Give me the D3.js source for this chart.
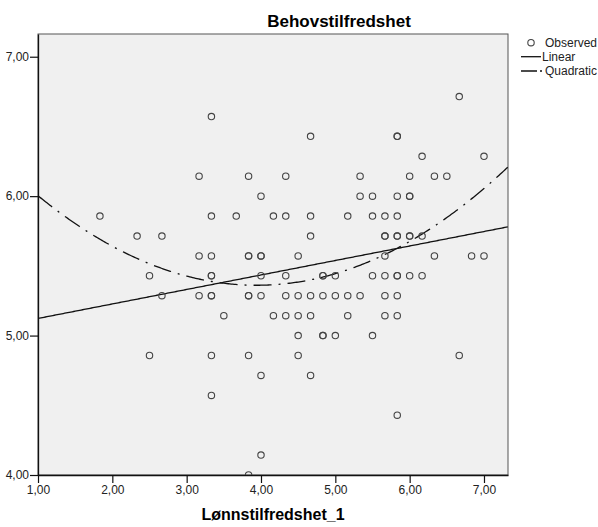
<!DOCTYPE html>
<html>
<head>
<meta charset="utf-8">
<script src="https://cdn.jsdelivr.net/npm/d3@7"></script>
<style>
    body { margin: 0; background: #fff; }
    svg { font-family: "Liberation Sans", Arial, sans-serif; }
    .tick text { font-size: 12px; fill: #222; }
</style>
</head>
<body>
<svg width="598" height="527"></svg>
<script>
// observed points, one line per Behovstilfredshet level
const obsX = [
    6.667,
    3.333,
    4.667, 5.833, 5.833,
    6.167, 7.000,
    3.167, 3.833, 4.333, 5.333, 6.000, 6.333, 6.500,
    4.000, 5.333, 5.500, 5.833, 6.000, 6.000,
    1.833, 3.333, 3.667, 4.167, 4.333, 4.667, 5.167, 5.500, 5.667, 5.833,
    2.333, 2.667, 4.667, 5.667, 5.667, 5.833, 5.833, 6.000, 6.000, 6.167,
    3.167, 3.333, 3.833, 3.833, 4.000, 4.000, 4.500, 5.667, 6.333, 6.833, 7.000,
    2.500, 3.333, 3.333, 4.000, 4.333, 4.833, 4.833, 5.000, 5.500, 5.667, 5.833, 5.833, 6.000, 6.167,
    2.667, 3.167, 3.333, 3.333, 3.833, 3.833, 4.000, 4.333, 4.500, 4.667, 4.833, 5.000, 5.167, 5.333, 5.667, 5.833,
    3.500, 4.167, 4.333, 4.500, 4.667, 5.167, 5.667, 5.833,
    4.500, 4.833, 4.833, 5.000, 5.500,
    2.500, 3.333, 3.833, 4.500, 6.667,
    4.000, 4.667,
    3.333,
    5.833,
    4.000,
    3.833
];
const obsY = [
    6.714,
    6.571,
    6.429, 6.429, 6.429,
    6.286, 6.286,
    6.143, 6.143, 6.143, 6.143, 6.143, 6.143, 6.143,
    6.000, 6.000, 6.000, 6.000, 6.000, 6.000,
    5.857, 5.857, 5.857, 5.857, 5.857, 5.857, 5.857, 5.857, 5.857, 5.857,
    5.714, 5.714, 5.714, 5.714, 5.714, 5.714, 5.714, 5.714, 5.714, 5.714,
    5.571, 5.571, 5.571, 5.571, 5.571, 5.571, 5.571, 5.571, 5.571, 5.571, 5.571,
    5.429, 5.429, 5.429, 5.429, 5.429, 5.429, 5.429, 5.429, 5.429, 5.429, 5.429, 5.429, 5.429, 5.429,
    5.286, 5.286, 5.286, 5.286, 5.286, 5.286, 5.286, 5.286, 5.286, 5.286, 5.286, 5.286, 5.286, 5.286, 5.286, 5.286,
    5.143, 5.143, 5.143, 5.143, 5.143, 5.143, 5.143, 5.143,
    5.000, 5.000, 5.000, 5.000, 5.000,
    4.857, 4.857, 4.857, 4.857, 4.857,
    4.714, 4.714,
    4.571,
    4.429,
    4.143,
    4.000
];

// fitted curves: intercept, slope (, quadratic term)
const fitLinear = [5.019, 0.1039];
const fitQuadratic = [6.514, -0.585, 0.0742];

const xTicks = [1, 2, 3, 4, 5, 6, 7];
const yTicks = [4, 5, 6, 7];
const xDomain = [1, 7.323];
const yDomain = [4, 7.163];

const legendItems = ["Observed", "Linear", "Quadratic"];

let svg = d3.select("svg");
let plot = {left: 38, right: 508, top: 34, bottom: 475};

let x = d3.scaleLinear().domain(xDomain).range([plot.left, plot.right]);
let y = d3.scaleLinear().domain(yDomain).range([plot.bottom, plot.top]);
let fmt = d => d3.format(".2f")(d).replace(".", ",");

// plot background
svg.append("rect")
    .attr("x", plot.left)
    .attr("y", plot.top)
    .attr("width", plot.right - plot.left)
    .attr("height", plot.bottom - plot.top)
    .attr("fill", "#f0f0f0")
    .attr("stroke", "#555")
    .attr("stroke-width", 1);

svg.append("defs").append("clipPath").attr("id", "clip")
    .append("rect")
    .attr("x", plot.left).attr("y", plot.top)
    .attr("width", plot.right - plot.left)
    .attr("height", plot.bottom - plot.top);

// axes
let yAxis = svg.append("g")
    .attr("transform", "translate(" + plot.left + ",0)")
    .call(d3.axisLeft(y).tickValues(yTicks).tickFormat(fmt).tickSize(8).tickSizeOuter(0).tickPadding(1));
let xAxis = svg.append("g")
    .attr("transform", "translate(0," + plot.bottom + ")")
    .call(d3.axisBottom(x).tickValues(xTicks).tickFormat(fmt).tickSize(8).tickSizeOuter(0).tickPadding(2));
svg.selectAll(".domain").attr("stroke", "#111").attr("stroke-width", 1.3);
svg.selectAll(".tick line").attr("stroke", "#111").attr("stroke-width", 1.2);
svg.selectAll(".tick text").attr("font-family", null).attr("font-size", null);

// fit lines
let xs = d3.range(xDomain[0], xDomain[1] + 0.01, 0.02);
let lineGen = d3.line().x(d => x(d[0])).y(d => y(d[1]));
let g = svg.append("g").attr("clip-path", "url(#clip)");

g.append("path")
    .datum(xs.map(v => [v, fitLinear[0] + fitLinear[1] * v]))
    .attr("d", lineGen)
    .attr("fill", "none")
    .attr("stroke", "#111")
    .attr("stroke-width", 1.3);

g.append("path")
    .datum(xs.map(v => [v, fitQuadratic[0] + fitQuadratic[1] * v + fitQuadratic[2] * v * v]))
    .attr("d", lineGen)
    .attr("fill", "none")
    .attr("stroke", "#111")
    .attr("stroke-width", 1.3)
    .attr("stroke-dasharray", "18,7,2,7");

// observed circles
g.selectAll(".obs")
    .data(obsX.map((v, i) => [v, obsY[i]]))
    .enter().append("circle")
    .attr("class", "obs")
    .attr("cx", d => x(d[0]))
    .attr("cy", d => y(d[1]))
    .attr("r", 3.2)
    .attr("fill", "none")
    .attr("stroke", "#444")
    .attr("stroke-width", 1.1);

// titles
svg.append("text")
    .attr("x", 339)
    .attr("y", 27)
    .attr("text-anchor", "middle")
    .attr("font-size", "17px")
    .attr("font-weight", "bold")
    .text("Behovstilfredshet");

svg.append("text")
    .attr("x", (plot.left + plot.right) / 2)
    .attr("y", 520)
    .attr("text-anchor", "middle")
    .attr("font-size", "16px")
    .attr("font-weight", "bold")
    .text("Lønnstilfredshet_1");

// legend
let legend = svg.append("g").attr("font-size", "12px").attr("fill", "#222");
legend.append("circle")
    .attr("cx", 531).attr("cy", 42.7).attr("r", 3.2)
    .attr("fill", "none").attr("stroke", "#444").attr("stroke-width", 1.1);
legend.append("text").attr("x", 545).attr("y", 47).text(legendItems[0]);

legend.append("line")
    .attr("x1", 521).attr("x2", 541).attr("y1", 56.7).attr("y2", 56.7)
    .attr("stroke", "#111").attr("stroke-width", 1.3);
legend.append("text").attr("x", 542).attr("y", 61).text(legendItems[1]);

legend.append("line")
    .attr("x1", 521).attr("x2", 542).attr("y1", 71).attr("y2", 71)
    .attr("stroke", "#111").attr("stroke-width", 1.3)
    .attr("stroke-dasharray", "16,3,2,10");
legend.append("text").attr("x", 545).attr("y", 75).text(legendItems[2]);
</script>
</body>
</html>
